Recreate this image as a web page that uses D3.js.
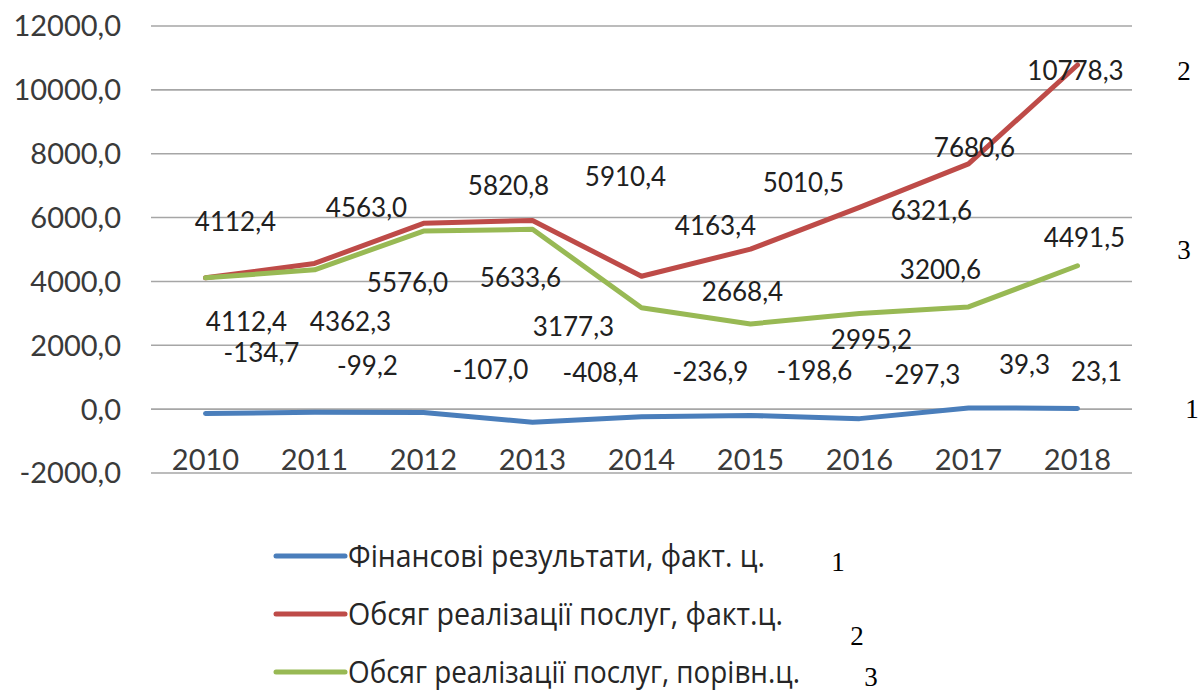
<!DOCTYPE html>
<html>
<head>
<meta charset="utf-8">
<script src="https://cdn.jsdelivr.net/npm/d3@7"></script>
<style>
  body { margin: 0; background: #fff; }
  svg { display: block; }
</style>
</head>
<body>
<svg id="chart" width="1201" height="693"></svg>
<script>
let years = ['2010', '2011', '2012', '2013', '2014', '2015', '2016', '2017', '2018']
let yTicks = [-2000, 0, 2000, 4000, 6000, 8000, 10000, 12000]

// series values
let finResult = [-134.7, -99.2, -107.0, -408.4, -236.9, -198.6, -297.3, 39.3, 23.1]
let salesFact = [4112.4, 4563.0, 5820.8, 5910.4, 4163.4, 5010.5, 6321.6, 7680.6, 10778.3]
let salesComp = [4112.4, 4362.3, 5576.0, 5633.6, 3177.3, 2668.4, 2995.2, 3200.6, 4491.5]

let seriesNames = ['Фінансові результати, факт. ц.', 'Обсяг реалізації послуг, факт.ц.', 'Обсяг реалізації послуг, порівн.ц.']
let seriesMarks = ['1', '2', '3']

// label nudges (px) — labels were dragged around in the original
let finOffsets = [[56, -61], [53, -47], [67, -43], [68, -50], [69, -45], [64, -45], [63, -44], [56, -43], [19, -37]]
let factOffsets = [[30, -56], [52, -56], [85, -38], [93, -44], [74, -51], [53, -67], [72, 3], [6, -16], [-2, 6]]
let compOffsets = [[41, 44], [36, 52], [-16, 52], [-12, 48], [-68, 19], [-8, -32], [12, 26], [-28, -37], [7, -28]]

let colors = ['#4a7ebb', '#be4b48', '#98b954']

let svg = d3.select('#chart')
let margin = { left: 151, right: 1132, top: 26, bottom: 473 }

let x = d3.scaleBand().domain(years).range([margin.left, margin.right])
let y = d3.scaleLinear().domain([-2000, 12000]).range([margin.bottom, margin.top])
// comma decimals, plain hyphen for negatives
let fmt = v => d3.format('.1f')(v).replace('.', ',').replace('\u2212', '-')

// gridlines
svg.append('g')
    .selectAll('line')
    .data(yTicks)
    .join('line')
    .attr('x1', margin.left)
    .attr('x2', margin.right)
    .attr('y1', d => y(d))
    .attr('y2', d => y(d))
    .attr('stroke', '#a6a6a6')
    .attr('stroke-width', 1.6)

// y axis labels
svg.append('g')
    .selectAll('text')
    .data(yTicks)
    .join('text')
    .attr('x', 121)
    .attr('y', d => y(d))
    .attr('dy', '0.36em')
    .attr('text-anchor', 'end')
    .style('font', '29px Lato')
    .style('fill', '#3a3a3a')
    .text(d => fmt(d))

// x labels, sitting above the bottom gridline
svg.append('g')
    .selectAll('text')
    .data(years)
    .join('text')
    .attr('x', d => x(d) + x.bandwidth() / 2)
    .attr('y', y(-2000) - 3)
    .attr('text-anchor', 'middle')
    .style('font', '29px Lato')
    .style('fill', '#3a3a3a')
    .text(d => d)

let line = d3.line()
    .x((d, i) => x(years[i]) + x.bandwidth() / 2)
    .y(d => y(d))

let allSeries = [finResult, salesFact, salesComp]
let allOffsets = [finOffsets, factOffsets, compOffsets]

allSeries.forEach((s, k) => {
    svg.append('path')
        .datum(s)
        .attr('d', line)
        .attr('fill', 'none')
        .attr('stroke', colors[k])
        .attr('stroke-width', 5)
        .attr('stroke-linejoin', 'round')
        .attr('stroke-linecap', 'round')
})

allSeries.forEach((s, k) => {
    svg.append('g')
        .selectAll('text')
        .data(s)
        .join('text')
        .attr('x', (d, i) => x(years[i]) + x.bandwidth() / 2 + allOffsets[k][i][0])
        .attr('y', (d, i) => y(d) + allOffsets[k][i][1])
        .attr('dy', '0.36em')
        .attr('text-anchor', 'middle')
        .style('font', '26px Lato')
        .style('fill', '#202020')
        .text(d => fmt(d))
})

// series numbers on the right
let rightIdx = [0, 1, 2]
let lastVals = [finResult[8], salesFact[8], salesComp[8]]
let rightNudge = [0, 6, -16]
svg.append('g')
    .selectAll('text')
    .data(rightIdx)
    .join('text')
    .attr('x', d => d == 0 ? 1192 : 1184)
    .attr('y', d => y(lastVals[d]) + rightNudge[d])
    .attr('dy', '0.35em')
    .attr('text-anchor', 'middle')
    .style('font', '27px "Liberation Serif"')
    .style('fill', '#000')
    .text(d => seriesMarks[d])

// legend
let legendY = [556, 614, 672]
let legendW = [417, 435, 452]
let markX = [838, 857, 871]
let markDy = [6, 22, 5]
let legend = svg.append('g')
seriesNames.forEach((name, k) => {
    legend.append('line')
        .attr('x1', 276).attr('x2', 345)
        .attr('y1', legendY[k]).attr('y2', legendY[k])
        .attr('stroke', colors[k])
        .attr('stroke-width', 5)
        .attr('stroke-linecap', 'round')
    legend.append('text')
        .attr('x', 348)
        .attr('y', legendY[k])
        .attr('dy', '0.36em')
        .attr('textLength', legendW[k])
        .attr('lengthAdjust', 'spacingAndGlyphs')
        .style('font', '31px "Open Sans"')
        .style('fill', '#262626')
        .text(name)
    legend.append('text')
        .attr('x', markX[k])
        .attr('y', legendY[k] + markDy[k])
        .attr('dy', '0.35em')
        .attr('text-anchor', 'middle')
        .style('font', '27px "Liberation Serif"')
        .style('fill', '#000')
        .text(seriesMarks[k])
})
</script>
</body>
</html>
